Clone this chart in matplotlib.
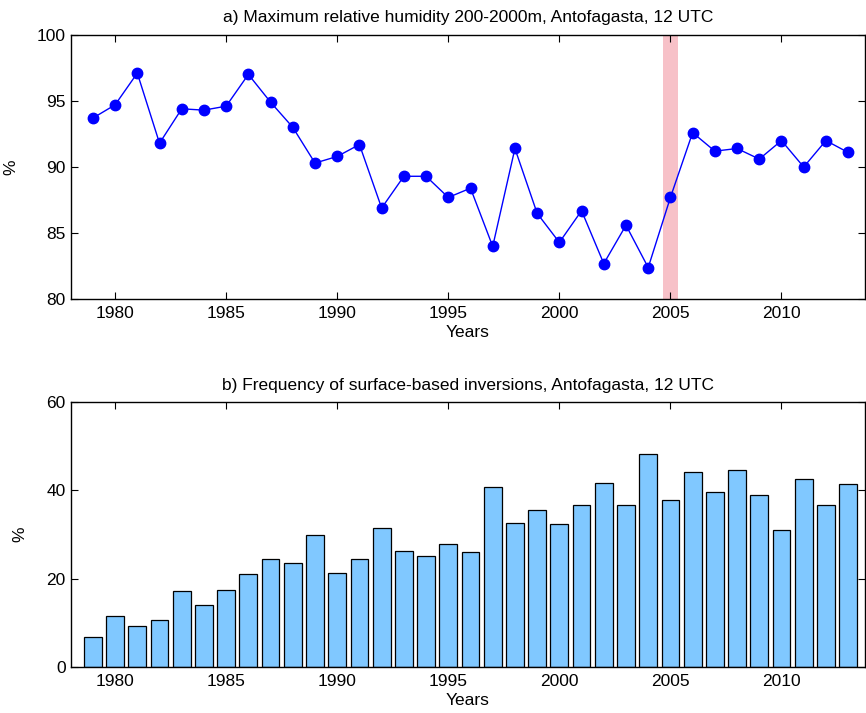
import matplotlib.pyplot as plt

plt.rcParams['font.family'] = ['Liberation Sans', 'DejaVu Sans']

years = list(range(1979, 2014))

# a) maximum relative humidity (%)
humidity = [93.7, 94.7, 97.1, 91.8, 94.4, 94.3, 94.6, 97.0, 94.9, 93.0,
            90.3, 90.8, 91.7, 86.9, 89.3, 89.3, 87.7, 88.4, 84.0, 91.4,
            86.5, 84.3, 86.7, 82.7, 85.6, 82.4, 87.7, 92.6, 91.2, 91.4,
            90.6, 92.0, 90.0, 92.0, 91.1]

# b) frequency of surface-based inversions (%)
inversions = [6.8, 11.6, 9.2, 10.7, 17.2, 13.9, 17.3, 21.1, 24.4, 23.5,
              29.8, 21.3, 24.4, 31.5, 26.3, 25.2, 27.8, 26.0, 40.7, 32.6,
              35.5, 32.4, 36.8, 41.7, 36.6, 48.2, 37.8, 44.1, 39.6, 44.6,
              39.0, 31.0, 42.5, 36.6, 41.5]

highlight_year = 2005
xticks = [1980, 1985, 1990, 1995, 2000, 2005, 2010]
fs = 12.5

fig = plt.figure(figsize=(8.66, 7.13), dpi=100)
ax1 = fig.add_axes([0.0816, 0.5802, 0.917, 0.3711])
ax2 = fig.add_axes([0.0816, 0.0649, 0.917, 0.3708])


def style_axes(ax):
    ax.set_xlim(1978, 2013.75)
    ax.set_xticks(xticks)
    ax.tick_params(direction='in', top=True, right=True, length=5, labelsize=fs, width=0.8)
    ax.tick_params(axis='x', pad=5)
    for sp in ax.spines.values():
        sp.set_linewidth(1.0)
    ax.set_xlabel('Years', fontsize=fs, labelpad=3)


# top panel
ax1.axvspan(highlight_year - 0.33, highlight_year + 0.33, color='#f7c1c8', lw=0, zorder=0)
ax1.plot(years, humidity, '-o', color='#0000ff', lw=1, markersize=7.5, zorder=3)
ax1.set_ylim(80, 100)
ax1.set_yticks([80, 85, 90, 95, 100])
ax1.set_ylabel('%', fontsize=fs)
ax1.yaxis.set_label_coords(-0.066, 0.5)
ax1.set_title('a) Maximum relative humidity 200-2000m, Antofagasta, 12 UTC', fontsize=fs, pad=9)
style_axes(ax1)

# bottom panel
ax2.bar(years, inversions, width=0.8, color='#80c8ff', edgecolor='black', linewidth=0.9, zorder=2)
ax2.set_ylim(0, 60)
ax2.set_yticks([0, 20, 40, 60])
ax2.set_ylabel('%', fontsize=fs)
ax2.yaxis.set_label_coords(-0.054, 0.5)
ax2.set_title('b) Frequency of surface-based inversions, Antofagasta, 12 UTC', fontsize=fs, pad=9)
style_axes(ax2)

fig.savefig('out.png', dpi=100)
